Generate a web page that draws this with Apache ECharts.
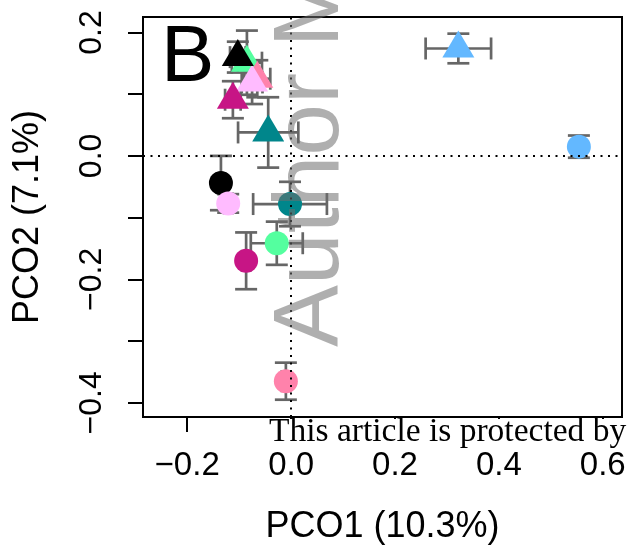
<!DOCTYPE html>
<html>
<head>
<meta charset="UTF-8">
<title>PCO B</title>
<script src="https://cdn.jsdelivr.net/npm/echarts@6/dist/echarts.min.js"></script>
<style>
  body { margin: 0; padding: 0; background: #fff; }
  #main { width: 630px; height: 546px; }
</style>
</head>
<body>
<div id="main"></div>
<script>
// triangles (one group)
var triX = [-0.085, -0.065, -0.075, -0.1025, -0.112, -0.044, 0.322];
var triY = [0.151, 0.125, 0.119, 0.160, 0.091, 0.038, 0.174];
var triSdX = [0.029, 0.025, 0.020, 0.015, 0.015, 0.058, 0.063];
var triSdY = [0.052, 0.030, 0.035, 0.025, 0.030, 0.057, 0.024];
var triColors = ['#54FF9F', '#FF82AB', '#FFBBFF', '#000000', '#C71585', '#00868B', '#63B8FF'];

// circles (other group)
var cirX = [0.554, -0.135, -0.121, -0.002, -0.0275, -0.0865, -0.010];
var cirY = [0.015, -0.044, -0.077, -0.078, -0.1415, -0.170, -0.365];
var cirSdX = [0.008, 0.008, 0.008, 0.071, 0.050, 0.008, 0.008];
var cirSdY = [0.018, 0.044, 0.015, 0.036, 0.035, 0.046, 0.030];
var cirColors = ['#63B8FF', '#000000', '#FFBBFF', '#00868B', '#54FF9F', '#C71585', '#FF82AB'];

var xTicks = [-0.2, 0, 0.2, 0.4, 0.6];
var yTicks = [-0.4, -0.3, -0.2, -0.1, 0, 0.1, 0.2];
var yLabels = [-0.4, -0.2, 0, 0.2];

var fontFam = 'Liberation Sans, Arial, sans-serif';

function fmt(v) {
  var s = Math.abs(v).toFixed(1);
  return v < -1e-9 ? '\u2212' + s : s;
}

var triData = triX.map(function (x, i) { return [x, triY[i]]; });
var cirData = cirX.map(function (x, i) { return [x, cirY[i]]; });
var errData = [];
triX.forEach(function (x, i) { errData.push([x, triY[i], triSdX[i], triSdY[i]]); });
cirX.forEach(function (x, i) { errData.push([x, cirY[i], cirSdX[i], cirSdY[i]]); });

var chart = echarts.init(document.getElementById('main'));

var option = {
  animation: false,
  grid: {
    left: 143, top: 17, right: 8, bottom: 129,
    outerBoundsMode: 'none', containLabel: false,
    show: true, borderColor: '#000', borderWidth: 2, backgroundColor: 'transparent'
  },
  xAxis: {
    type: 'value', min: -0.285, max: 0.637,
    name: 'PCO1 (10.3%)', nameLocation: 'middle', nameGap: 92,
    nameTextStyle: { fontSize: 36, fontFamily: fontFam, color: '#000' },
    axisLine: { show: false, onZero: false },
    splitLine: { show: false },
    axisTick: { show: true, inside: false, length: 15, lineStyle: { color: '#000', width: 2 }, customValues: xTicks },
    axisLabel: { fontSize: 33, fontFamily: fontFam, color: '#000', margin: 32, customValues: xTicks, formatter: fmt }
  },
  yAxis: {
    type: 'value', min: -0.423, max: 0.225,
    name: 'PCO2 (7.1%)', nameLocation: 'middle', nameGap: 97,
    nameTextStyle: { fontSize: 36, fontFamily: fontFam, color: '#000' },
    axisLine: { show: false, onZero: false },
    splitLine: { show: false },
    axisTick: { show: true, inside: false, length: 15, lineStyle: { color: '#000', width: 2 }, customValues: yTicks },
    axisLabel: { fontSize: 32, fontFamily: fontFam, color: '#000', margin: 35, rotate: 90, customValues: yLabels, formatter: fmt }
  },
  series: [
    {
      type: 'custom',
      data: errData,
      encode: { x: 0, y: 1 },
      z: 2,
      renderItem: function (params, api) {
        var x = api.value(0), y = api.value(1), sx = api.value(2), sy = api.value(3);
        var c = api.coord([x, y]);
        var l = api.coord([x - sx, y]), r = api.coord([x + sx, y]);
        var t = api.coord([x, y + sy]), b = api.coord([x, y - sy]);
        var cap = 11;
        var st = { stroke: '#666666', lineWidth: 2.7 };
        return {
          type: 'group',
          children: [
            { type: 'line', shape: { x1: l[0], y1: c[1], x2: r[0], y2: c[1] }, style: st },
            { type: 'line', shape: { x1: l[0], y1: c[1] - cap, x2: l[0], y2: c[1] + cap }, style: st },
            { type: 'line', shape: { x1: r[0], y1: c[1] - cap, x2: r[0], y2: c[1] + cap }, style: st },
            { type: 'line', shape: { x1: c[0], y1: t[1], x2: c[0], y2: b[1] }, style: st },
            { type: 'line', shape: { x1: c[0] - cap, y1: t[1], x2: c[0] + cap, y2: t[1] }, style: st },
            { type: 'line', shape: { x1: c[0] - cap, y1: b[1], x2: c[0] + cap, y2: b[1] }, style: st }
          ]
        };
      }
    },
    {
      type: 'scatter',
      data: triData,
      z: 3,
      symbol: 'triangle',
      symbolSize: [32, 27],
      symbolOffset: [0, -4.5],
      itemStyle: { opacity: 1, color: function (p) { return triColors[p.dataIndex]; } }
    },
    {
      type: 'scatter',
      data: cirData,
      z: 3,
      symbol: 'circle',
      symbolSize: 24,
      itemStyle: { opacity: 1, color: function (p) { return cirColors[p.dataIndex]; } }
    },
    {
      type: 'line',
      data: [],
      z: 6,
      markLine: {
        silent: true,
        symbol: 'none',
        label: { show: false },
        lineStyle: { color: '#000', width: 2, type: [2, 5.5] },
        data: [{ xAxis: 0 }, { yAxis: 0 }]
      }
    }
  ],
  graphic: [
    {
      type: 'text', x: 312, y: 347, rotation: Math.PI / 2, z: 100,
      style: { text: 'Author Manuscript', font: '93px ' + fontFam, fill: 'rgba(110,110,110,0.55)', textAlign: 'left', textVerticalAlign: 'middle' }
    },
    {
      type: 'text', x: 161, y: 19, z: 100,
      style: { text: 'B', font: '80px ' + fontFam, fill: '#000', textAlign: 'left', textVerticalAlign: 'top' }
    },
    {
      type: 'rect', z: 99, shape: { x: 266, y: 419, width: 364, height: 28 }, style: { fill: '#fff' }
    },
    {
      type: 'text', x: 269, y: 415, z: 100,
      style: { text: 'This article is protected by', font: '33.5px Liberation Serif, serif', fill: '#000', textAlign: 'left', textVerticalAlign: 'top' }
    }
  ]
};

chart.setOption(option);
</script>
</body>
</html>
